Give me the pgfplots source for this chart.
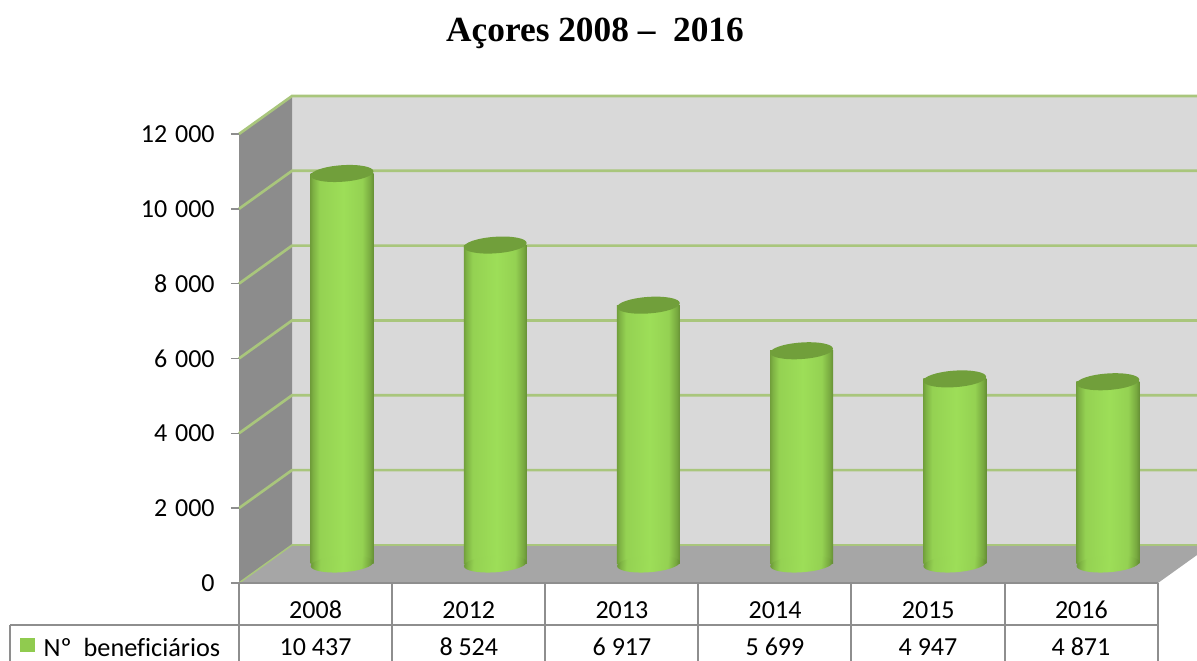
\documentclass[border=0pt]{standalone}
\usepackage{fontspec}
\setmainfont[Ligatures=NoCommon]{Carlito}
\newfontfamily\titlefont{Liberation Serif}
\usepackage{pgfplots}
\usepackage{pgfplotstable}
\pgfplotsset{compat=1.18}

\definecolor{wallback}{HTML}{D9D9D9}
\definecolor{wallside}{HTML}{8C8C8C}
\definecolor{wallfloor}{HTML}{A6A6A6}
\definecolor{gridgreen}{HTML}{A9C67C}
\definecolor{barlight}{HTML}{9DDE58}
\definecolor{bartop}{HTML}{719F3B}
\definecolor{rulegray}{HTML}{8E8E8E}

% 1 px of the reference = 0.75pt
% tikz maps the 25bp..75bp part of a shading onto the path
\pgfdeclarehorizontalshading{cyl}{100bp}{
  color(0bp)=(bartop);
  color(25bp)=(bartop);
  color(27bp)=(bartop!70!barlight);
  color(32bp)=(barlight!80!bartop);
  color(51bp)=(barlight);
  color(66bp)=(barlight!80!bartop);
  color(72.5bp)=(bartop!85!barlight);
  color(75bp)=(bartop!90!black);
  color(100bp)=(bartop!90!black)}
\pgfdeclareplotmark{cyltop}{%
  \pgftransformrotate{4}%
  \pgfpathellipse{\pgfpointorigin}{\pgfpoint{23.6pt}{0pt}}{\pgfpoint{0pt}{6.2pt}}%
  \pgfusepathqfill}
\pgfdeclareplotmark{cylbase}{%
  \pgftransformrotate{4}%
  \pgfpathellipse{\pgfpointorigin}{\pgfpoint{23.6pt}{0pt}}{\pgfpoint{0pt}{6.2pt}}%
  \pgfshadepath{cyl}{-4}%
  \pgfusepath{discard}}

\pgfplotstableread{
x year value zero
0 2008 10437 0
1 2012 8524 0
2 2013 6917 0
3 2014 5699 0
4 2015 4947 0
5 2016 4871 0
}\benef

\begin{document}
\begin{tikzpicture}[x=0.75pt,y=-0.75pt,yshift=495.75pt]
\path[use as bounding box,clip] (0,0) rectangle (1197,661);

% 3D walls
\fill[wallback] (292,96) rectangle (1211,545);
\fill[wallside] (239,134) -- (292,96) -- (292,545) -- (239,583) -- cycle;
\fill[wallfloor] (239,583) -- (292,545) -- (1211,545) -- (1158,583) -- cycle;
\foreach \k in {0,...,5} {
  \pgfmathsetmacro{\yb}{96+74.83*\k}
  \pgfmathsetmacro{\yf}{134+74.83*\k}
  \draw[gridgreen,line width=2pt] (239,\yf) -- (292,\yb) -- (1211,\yb);
}
\draw[gridgreen,line width=1.2pt] (239,583) -- (292,545) -- (1211,545);

% title
\node[font=\titlefont\bfseries\fontsize{26.5}{30}\selectfont] at (595,33) {Açores 2008 –\ \ 2016};

% data table
\draw[rulegray,line width=1.5pt] (239,583) -- (1158,583);
\draw[rulegray,line width=1.5pt] (10,625) -- (1158,625);
\draw[rulegray,line width=1.5pt] (10,625) -- (10,662);
\foreach \xx in {239,392,545,698,851,1004.5,1158}
  \draw[rulegray,line width=1.5pt] (\xx,583) -- (\xx,662);
\fill[barlight!70!bartop] (20,638) rectangle (35,652);
\node[anchor=west,font=\fontsize{19.7}{22}\selectfont] at (39,647) {Nº\ \ beneficiários};
\foreach \xx/\vv in {315.6/10 437,468.8/8 524,622/6 917,775/5 699,928/4 947,1081/4 871}
  \node[font=\fontsize{19.5}{22}\selectfont] at (\xx,647) {\vv};

% front plane: ticks and year labels
\begin{axis}[
  at={(179.25pt,-437.25pt)}, anchor=south west,
  scale only axis, width=689.25pt, height=336.75pt,
  xmin=-0.5, xmax=5.5, ymin=0, ymax=12000,
  axis lines*=left, axis line style={draw=none},
  tick align=outside, major tick length=6pt,
  y tick style={rulegray,line width=1.2pt},
  x tick style={draw=none},
  ytick={0,2000,4000,6000,8000,10000,12000},
  scaled y ticks=false,
  xtick={0,1,2,3,4,5},
  xticklabels from table={\benef}{year},
  tick label style={font=\fontsize{19.5}{22}\selectfont},
  x tick label style={anchor=center,yshift=-14.25pt},
  y tick label style={xshift=-8.75pt},
  /pgf/number format/.cd, 1000 sep={\hspace{0.3em}}, assume math mode=true,
]
\addplot[draw=none] coordinates {(0,0)};
\end{axis}

% cylinders sit half way into the depth of the box
\begin{axis}[
  at={(199.125pt,-423pt)}, anchor=south west,
  scale only axis, width=689.25pt, height=336.75pt,
  xmin=-0.5, xmax=5.5, ymin=0, ymax=12000,
  hide axis, clip=false,
]
\addplot[only marks, mark=cylbase] table[x=x,y=zero] {\benef};
% one plot per bar, so that each cylinder gets its own shading
\pgfplotsinvokeforeach{0,1,2,3,4,5}{
  \addplot[ybar, bar width=47.25pt, bar shift=0pt, draw=none, shading=cyl,
    x filter/.expression={x==#1 ? x : nan}] table[x=x,y=value] {\benef};
}
\addplot[only marks, mark=cyltop, mark options={fill=bartop,draw=none}] table[x=x,y=value] {\benef};
\end{axis}
\end{tikzpicture}%
\end{document}
